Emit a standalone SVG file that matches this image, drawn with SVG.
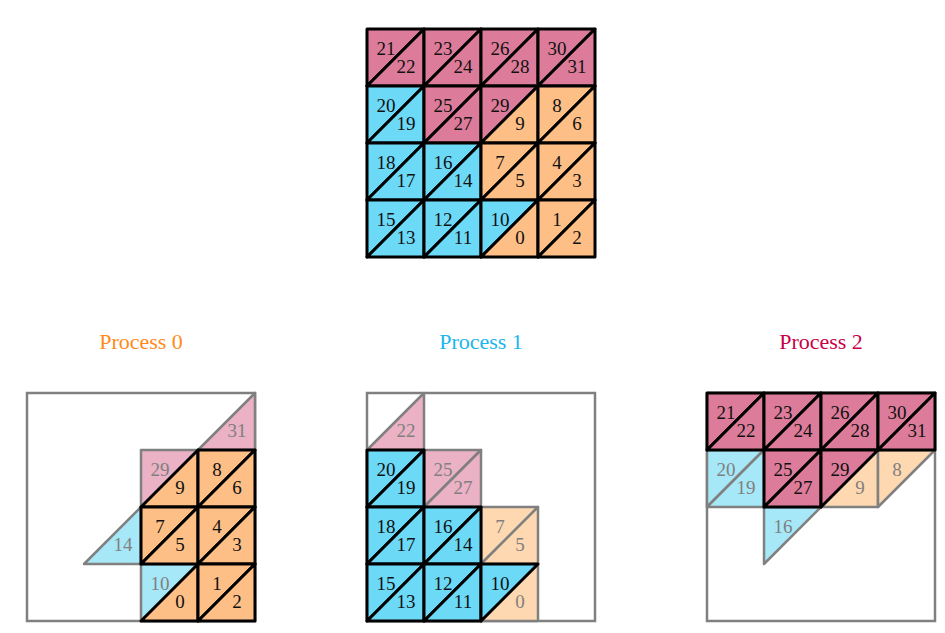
<svg xmlns="http://www.w3.org/2000/svg" width="945" height="633" viewBox="0 0 945 633" font-family="Liberation Serif, DejaVu Serif, serif">
<style>
  .own { stroke: #000; stroke-width: 3; stroke-linejoin: round; }
  .gh { stroke: #808080; stroke-width: 2.5; stroke-linejoin: round; }
  .pk { fill: #dd7c9a; }
  .bl { fill: #6cd9f7; }
  .or { fill: #fdbf86; }
  .pkl { fill: #ebb1c4; }
  .bll { fill: #a6e8f8; }
  .orl { fill: #fed8b0; }
  .box { fill: none; stroke: #808080; stroke-width: 2.5; }
  text { font-family: 'Liberation Serif', 'DejaVu Serif', serif; font-size: 19px; text-anchor: middle; }
  .t { fill: #111; }
  .tg { fill: #808080; }
  .title { font-size: 22px; }
</style>
<rect width="945" height="633" fill="#fff"/>

<g id="full-grid">
  <polygon class="own pk" points="367,29 424,29 367,86"/><polygon class="own pk" points="424,29 424,86 367,86"/>
  <polygon class="own pk" points="424,29 481,29 424,86"/><polygon class="own pk" points="481,29 481,86 424,86"/>
  <polygon class="own pk" points="481,29 538,29 481,86"/><polygon class="own pk" points="538,29 538,86 481,86"/>
  <polygon class="own pk" points="538,29 595,29 538,86"/><polygon class="own pk" points="595,29 595,86 538,86"/>
  <polygon class="own bl" points="367,86 424,86 367,143"/><polygon class="own bl" points="424,86 424,143 367,143"/>
  <polygon class="own pk" points="424,86 481,86 424,143"/><polygon class="own pk" points="481,86 481,143 424,143"/>
  <polygon class="own pk" points="481,86 538,86 481,143"/><polygon class="own or" points="538,86 538,143 481,143"/>
  <polygon class="own or" points="538,86 595,86 538,143"/><polygon class="own or" points="595,86 595,143 538,143"/>
  <polygon class="own bl" points="367,143 424,143 367,200"/><polygon class="own bl" points="424,143 424,200 367,200"/>
  <polygon class="own bl" points="424,143 481,143 424,200"/><polygon class="own bl" points="481,143 481,200 424,200"/>
  <polygon class="own or" points="481,143 538,143 481,200"/><polygon class="own or" points="538,143 538,200 481,200"/>
  <polygon class="own or" points="538,143 595,143 538,200"/><polygon class="own or" points="595,143 595,200 538,200"/>
  <polygon class="own bl" points="367,200 424,200 367,257"/><polygon class="own bl" points="424,200 424,257 367,257"/>
  <polygon class="own bl" points="424,200 481,200 424,257"/><polygon class="own bl" points="481,200 481,257 424,257"/>
  <polygon class="own bl" points="481,200 538,200 481,257"/><polygon class="own or" points="538,200 538,257 481,257"/>
  <polygon class="own or" points="538,200 595,200 538,257"/><polygon class="own or" points="595,200 595,257 538,257"/>
  <g class="t">
    <text x="386" y="55">21</text><text x="406" y="73">22</text>
    <text x="443" y="55">23</text><text x="463" y="73">24</text>
    <text x="500" y="55">26</text><text x="520" y="73">28</text>
    <text x="557" y="55">30</text><text x="577" y="73">31</text>
    <text x="386" y="112">20</text><text x="406" y="130">19</text>
    <text x="443" y="112">25</text><text x="463" y="130">27</text>
    <text x="500" y="112">29</text><text x="520" y="130">9</text>
    <text x="557" y="112">8</text><text x="577" y="130">6</text>
    <text x="386" y="169">18</text><text x="406" y="187">17</text>
    <text x="443" y="169">16</text><text x="463" y="187">14</text>
    <text x="500" y="169">7</text><text x="520" y="187">5</text>
    <text x="557" y="169">4</text><text x="577" y="187">3</text>
    <text x="386" y="226">15</text><text x="406" y="244">13</text>
    <text x="443" y="226">12</text><text x="463" y="244">11</text>
    <text x="500" y="226">10</text><text x="520" y="244">0</text>
    <text x="557" y="226">1</text><text x="577" y="244">2</text>
  </g>
</g>

<g id="process-0">
  <text class="title" x="141" y="349" fill="#ff8a1a">Process 0</text>
  <rect class="box" x="27" y="393" width="228" height="228"/>
  <polygon class="gh pkl" points="255,393 255,450 198,450"/>
  <polygon class="gh pkl" points="141,450 198,450 141,507"/>
  <polygon class="gh bll" points="141,507 141,564 84,564"/>
  <polygon class="gh bll" points="141,564 198,564 141,621"/>
  <polygon class="own or" points="198,450 198,507 141,507"/>
  <polygon class="own or" points="198,450 255,450 198,507"/><polygon class="own or" points="255,450 255,507 198,507"/>
  <polygon class="own or" points="141,507 198,507 141,564"/><polygon class="own or" points="198,507 198,564 141,564"/>
  <polygon class="own or" points="198,507 255,507 198,564"/><polygon class="own or" points="255,507 255,564 198,564"/>
  <polygon class="own or" points="198,564 198,621 141,621"/>
  <polygon class="own or" points="198,564 255,564 198,621"/><polygon class="own or" points="255,564 255,621 198,621"/>
  <g class="tg">
    <text x="237" y="437">31</text><text x="160" y="476">29</text>
    <text x="123" y="551">14</text><text x="160" y="590">10</text>
  </g>
  <g class="t">
    <text x="180" y="494">9</text>
    <text x="217" y="476">8</text><text x="237" y="494">6</text>
    <text x="160" y="533">7</text><text x="180" y="551">5</text>
    <text x="217" y="533">4</text><text x="237" y="551">3</text>
    <text x="180" y="608">0</text>
    <text x="217" y="590">1</text><text x="237" y="608">2</text>
  </g>
</g>

<g id="process-1">
  <text class="title" x="481" y="349" fill="#1ab6ee">Process 1</text>
  <rect class="box" x="367" y="393" width="228" height="228"/>
  <polygon class="gh pkl" points="424,393 424,450 367,450"/>
  <polygon class="gh pkl" points="424,450 481,450 424,507"/><polygon class="gh pkl" points="481,450 481,507 424,507"/>
  <polygon class="gh orl" points="481,507 538,507 481,564"/><polygon class="gh orl" points="538,507 538,564 481,564"/>
  <polygon class="gh orl" points="538,564 538,621 481,621"/>
  <polygon class="own bl" points="367,450 424,450 367,507"/><polygon class="own bl" points="424,450 424,507 367,507"/>
  <polygon class="own bl" points="367,507 424,507 367,564"/><polygon class="own bl" points="424,507 424,564 367,564"/>
  <polygon class="own bl" points="424,507 481,507 424,564"/><polygon class="own bl" points="481,507 481,564 424,564"/>
  <polygon class="own bl" points="367,564 424,564 367,621"/><polygon class="own bl" points="424,564 424,621 367,621"/>
  <polygon class="own bl" points="424,564 481,564 424,621"/><polygon class="own bl" points="481,564 481,621 424,621"/>
  <polygon class="own bl" points="481,564 538,564 481,621"/>
  <g class="tg">
    <text x="406" y="437">22</text>
    <text x="443" y="476">25</text><text x="463" y="494">27</text>
    <text x="500" y="533">7</text><text x="520" y="551">5</text>
    <text x="520" y="608">0</text>
  </g>
  <g class="t">
    <text x="386" y="476">20</text><text x="406" y="494">19</text>
    <text x="386" y="533">18</text><text x="406" y="551">17</text>
    <text x="443" y="533">16</text><text x="463" y="551">14</text>
    <text x="386" y="590">15</text><text x="406" y="608">13</text>
    <text x="443" y="590">12</text><text x="463" y="608">11</text>
    <text x="500" y="590">10</text>
  </g>
</g>

<g id="process-2">
  <text class="title" x="821" y="349" fill="#c8004a">Process 2</text>
  <rect class="box" x="707" y="393" width="228" height="228"/>
  <polygon class="gh bll" points="707,450 764,450 707,507"/><polygon class="gh bll" points="764,450 764,507 707,507"/>
  <polygon class="gh orl" points="878,450 878,507 821,507"/>
  <polygon class="gh orl" points="878,450 935,450 878,507"/>
  <polygon class="gh bll" points="764,507 821,507 764,564"/>
  <polygon class="own pk" points="707,393 764,393 707,450"/><polygon class="own pk" points="764,393 764,450 707,450"/>
  <polygon class="own pk" points="764,393 821,393 764,450"/><polygon class="own pk" points="821,393 821,450 764,450"/>
  <polygon class="own pk" points="821,393 878,393 821,450"/><polygon class="own pk" points="878,393 878,450 821,450"/>
  <polygon class="own pk" points="878,393 935,393 878,450"/><polygon class="own pk" points="935,393 935,450 878,450"/>
  <polygon class="own pk" points="764,450 821,450 764,507"/><polygon class="own pk" points="821,450 821,507 764,507"/>
  <polygon class="own pk" points="821,450 878,450 821,507"/>
  <g class="tg">
    <text x="726" y="476">20</text><text x="746" y="494">19</text>
    <text x="860" y="494">9</text><text x="897" y="476">8</text>
    <text x="783" y="533">16</text>
  </g>
  <g class="t">
    <text x="726" y="419">21</text><text x="746" y="437">22</text>
    <text x="783" y="419">23</text><text x="803" y="437">24</text>
    <text x="840" y="419">26</text><text x="860" y="437">28</text>
    <text x="897" y="419">30</text><text x="917" y="437">31</text>
    <text x="783" y="476">25</text><text x="803" y="494">27</text>
    <text x="840" y="476">29</text>
  </g>
</g>
</svg>
